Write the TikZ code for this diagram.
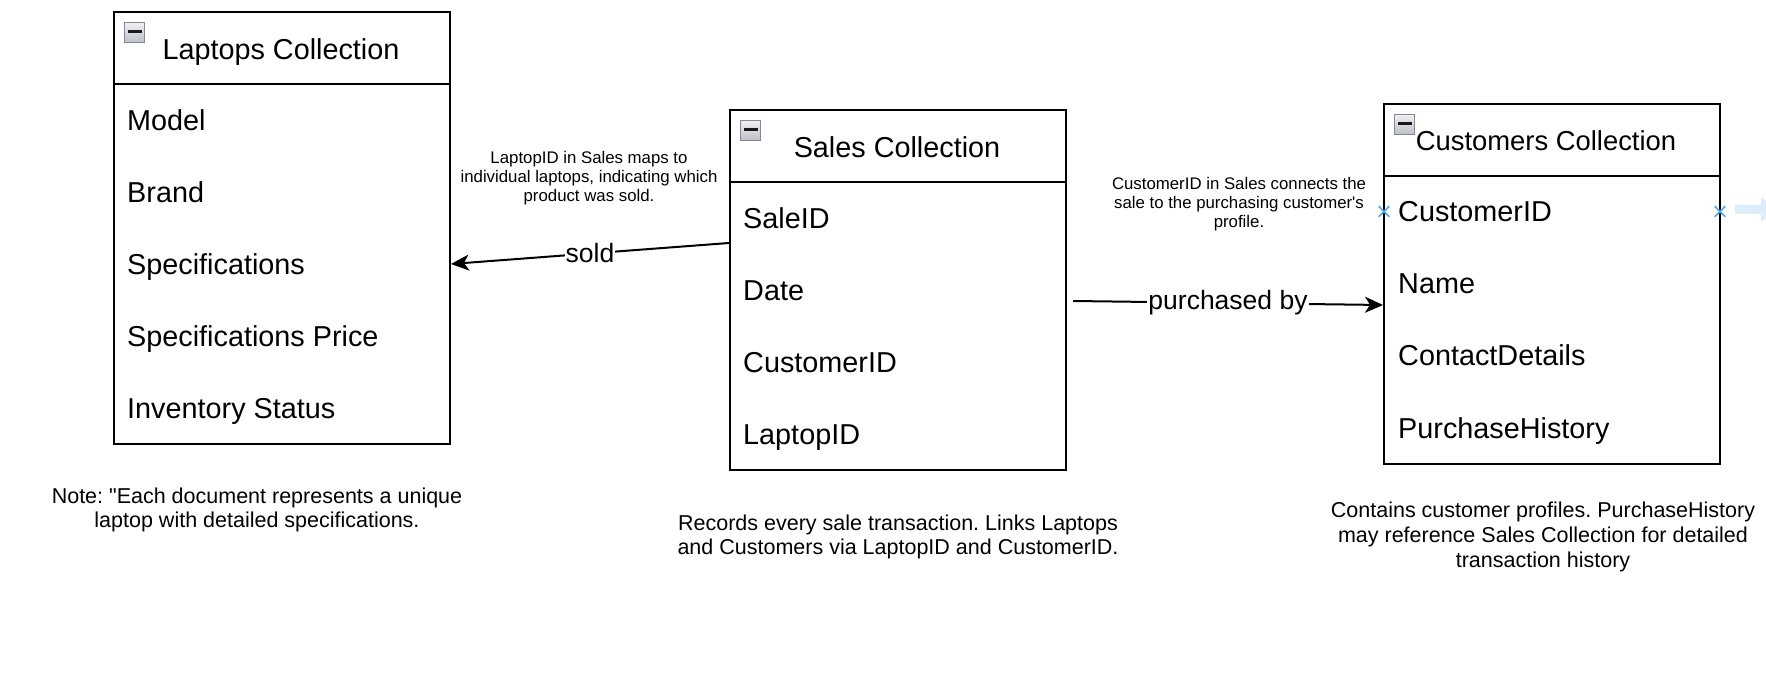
\documentclass[tikz,border=0pt]{standalone}
\usepackage{fontspec}
\setmainfont{Liberation Sans}[Ligatures=TeXOff]
\usetikzlibrary{arrows.meta,calc,shapes.misc}
\definecolor{iconborder}{RGB}{130,136,156}
\definecolor{icontop}{RGB}{240,240,242}
\definecolor{iconbot}{RGB}{190,192,200}
\definecolor{hoverblue}{RGB}{74,168,240}
\definecolor{hoverfill}{RGB}{222,237,249}
\frenchspacing
\begin{document}
\begin{tikzpicture}[x=1pt,y=-1pt,
  hdr/.style={draw=black,line width=2pt,minimum width=336pt,minimum height=72pt,inner sep=0pt},
  body/.style={draw=black,line width=2pt,minimum width=336pt,inner sep=0pt},
  title/.style={font=\fontsize{28.8}{34}\selectfont,inner sep=0pt},
  field/.style={font=\fontsize{28.8}{34}\selectfont,anchor=base west,inner sep=0pt},
  icon/.style={draw=iconborder,line width=1.2pt,top color=icontop,bottom color=iconbot,minimum size=20pt,inner sep=0pt},
  conn/.style={draw=black,line width=2pt,-{Stealth[length=18pt,width=16pt,inset=5pt]}},
  clabel/.style={font=\fontsize{26.5}{30}\selectfont,fill=white,inner sep=1pt},
  small/.style={font=\fontsize{16.8}{19.2}\selectfont,align=center,inner sep=0pt},
  note/.style={font=\fontsize{21.5}{24.8}\selectfont,align=center,inner sep=0pt},
  xmark/.style={cross out,draw=hoverblue,line width=1.6pt,minimum size=9pt,inner sep=0pt}]
\useasboundingbox[fill=white] (0,0) rectangle (1766,700);

% ---------- Laptops ----------
\node[hdr] (lapH) at (282,48) {};
\node[body,minimum height=360pt] (lapB) at (282,264) {};
\node[icon] (lapI) at (134.5,32.5) {};
\fill[black!90] ($(lapI.center)+(-7,-2)$) rectangle ($(lapI.center)+(7,1)$);
\node[title,anchor=base] (lapT) at (281,60) {Laptops Collection};
\node[field] (lapModel) at (127,130.5) {Model};
\node[field] (lapBrand) at (127,202.5) {Brand};
\node[field] (lapSpec) at (127,274.5) {Specifications};
\node[field] (lapPrice) at (127,346.5) {Specifications Price};
\node[field] (lapInv) at (127,418.5) {Inventory Status};

% ---------- Sales ----------
\node[hdr] (salH) at (898,146) {};
\node[body,minimum height=288pt] (salB) at (898,326) {};
\node[icon] (salI) at (750.5,130.5) {};
\fill[black!90] ($(salI.center)+(-7,-2)$) rectangle ($(salI.center)+(7,1)$);
\node[title,anchor=base] (salT) at (897,158) {Sales Collection};
\node[field] (salId) at (743,228.5) {SaleID};
\node[field] (salDate) at (743,300.5) {Date};
\node[field] (salCust) at (743,372.5) {CustomerID};
\node[field] (salLap) at (743,444.5) {LaptopID};

% ---------- Customers ----------
\node[hdr] (cusH) at (1552,140) {};
\node[body,minimum height=288pt] (cusB) at (1552,320) {};
\node[icon] (cusI) at (1404.5,124.5) {};
\fill[black!90] ($(cusI.center)+(-7,-2)$) rectangle ($(cusI.center)+(7,1)$);
\node[title,anchor=base,font=\fontsize{27.4}{32}\selectfont] (cusT) at (1546,150.5) {Customers Collection};
\node[field] (cusId) at (1398,222) {CustomerID};
\node[field] (cusName) at (1398,294) {Name};
\node[field] (cusContact) at (1398,366) {ContactDetails};
\node[field] (cusHist) at (1398,438) {PurchaseHistory};

% hover marks
\node[xmark] (xl) at (1384,211.5) {};
\node[xmark] (xr) at (1720,211.5) {};
\fill[hoverfill] (1735,205) -- (1761,205) -- (1761,197) -- (1778,209.5) -- (1761,222) -- (1761,214) -- (1735,214) -- cycle;

% ---------- Connectors ----------
\draw[conn] ($(salB.north west)+(0,62)$) -- node[clabel] (lblSold) {sold} (lapB.east);
\draw[conn] ($(salB.north east)+(6,120)$) -- node[clabel] (lblPurch) {purchased by} ($(cusB.north west)+(0,130)$);

% ---------- Annotations ----------
\node[small] (annLap) at (589,178) {LaptopID in Sales maps to\\individual laptops, indicating which\\product was sold.};
\node[small] (annCus) at (1239,204) {CustomerID in Sales connects the\\sale to the purchasing customer's\\profile.};

\node[note] (noteLap) at (257,510) {Note: "Each document represents a unique\\laptop with detailed specifications.};
\node[note] (noteSal) at (898,537) {Records every sale transaction. Links Laptops\\and Customers via LaptopID and CustomerID.};
\node[note] (noteCus) at (1543,537) {Contains customer profiles. PurchaseHistory\\may reference Sales Collection for detailed\\transaction history};
\end{tikzpicture}
\end{document}
